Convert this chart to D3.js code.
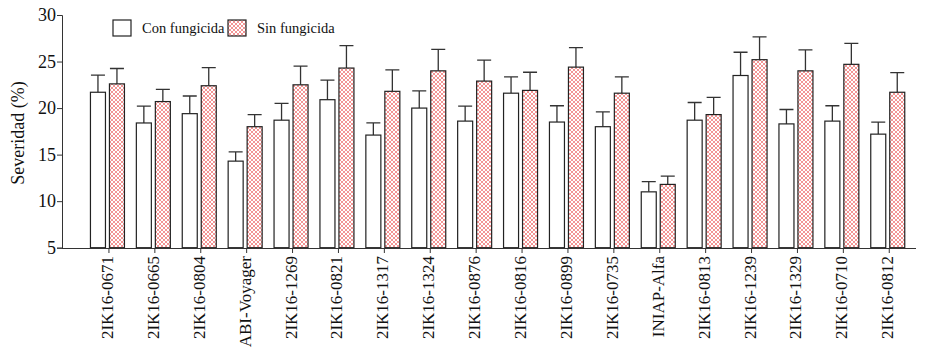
<!DOCTYPE html>
<html>
<head>
<meta charset="utf-8">
<script src="https://cdn.jsdelivr.net/npm/d3@7"></script>
<style>
body { margin: 0; background: #fff; }
</style>
</head>
<body>
<script>
// data
var lines = ["2IK16-0671","2IK16-0665","2IK16-0804","ABI-Voyager","2IK16-1269","2IK16-0821",
  "2IK16-1317","2IK16-1324","2IK16-0876","2IK16-0816","2IK16-0899","2IK16-0735",
  "INIAP-Alfa","2IK16-0813","2IK16-1239","2IK16-1329","2IK16-0710","2IK16-0812"];
var conFung = [21.7,18.4,19.4,14.3,18.7,20.9,17.1,20.0,18.6,21.6,18.5,18.0,11.0,18.7,23.5,18.3,18.6,17.2];
var conErr  = [1.85,1.8,1.9,1.0,1.8,2.1,1.3,1.85,1.6,1.75,1.75,1.6,1.1,1.9,2.5,1.55,1.65,1.3];
var sinFung = [22.6,20.7,22.4,18.0,22.5,24.3,21.8,24.0,22.9,21.9,24.4,21.6,11.8,19.3,25.2,24.0,24.7,21.7];
var sinErr  = [1.65,1.3,1.95,1.3,2.0,2.4,2.3,2.3,2.25,1.95,2.1,1.75,0.9,1.85,2.45,2.25,2.25,2.1];
var series = ["Con fungicida","Sin fungicida"];
var yTicks = [5,10,15,20,25,30];

var FONT = "'Liberation Serif', 'Times New Roman', 'DejaVu Serif', serif";
var W = 925, H = 349;
var svg = d3.select("body").append("svg").attr("width", W).attr("height", H)
  .attr("font-family", FONT);

var defs = svg.append("defs");
var pat = defs.append("pattern").attr("id","hatch").attr("patternUnits","userSpaceOnUse")
  .attr("width",4).attr("height",4);
pat.append("rect").attr("width",4).attr("height",4).attr("fill","#fff");
pat.append("path").attr("d","M0,0L4,4M4,0L0,4").attr("stroke","#f07a7a").attr("stroke-width",0.8);

var y = d3.scaleLinear().domain([5,30]).range([247.7,15]);
var x = d3.scaleBand().domain(lines).range([86,912.2]);
var xs = d3.scaleBand().domain(series).range([-18.5,15.5]).paddingInner(0.21);

// y axis
var yAx = svg.append("g").attr("transform","translate(62,0)")
  .call(d3.axisLeft(y).tickValues(yTicks).tickSize(5).tickPadding(1))
  .attr("font-family", FONT);
yAx.select(".domain").attr("stroke","#333");
yAx.selectAll(".tick line").attr("stroke","#333");
yAx.selectAll("text").style("font-size","18px").style("font-family",FONT).attr("fill","#111");

svg.append("text").attr("transform","translate(24,133) rotate(-90)")
  .attr("text-anchor","middle").style("font-size","18px").style("font-family",FONT)
  .attr("fill","#111").text("Severidad (%)");

// bars
var groups = [
  {name: series[0], vals: conFung, errs: conErr, fill: "#fff"},
  {name: series[1], vals: sinFung, errs: sinErr, fill: "url(#hatch)"}
];
groups.forEach(function(s){
  var g = svg.append("g");
  var items = lines.map(function(l,i){ return {line:l, v:s.vals[i], e:s.errs[i]}; });
  var bx = function(d){ return x(d.line) + x.bandwidth()/2 + xs(s.name); };
  g.selectAll("path.err").data(items).enter().append("path")
    .attr("d", function(d){
      var cx = bx(d) + xs.bandwidth()/2;
      return "M"+cx+","+y(d.v)+"V"+y(d.v+d.e)+"M"+(bx(d)+0.5)+","+y(d.v+d.e)+"H"+(bx(d)+xs.bandwidth()-0.5);
    })
    .attr("stroke","#333").attr("stroke-width",1.3).attr("fill","none");
  g.selectAll("rect").data(items).enter().append("rect")
    .attr("x", bx)
    .attr("y", function(d){ return y(d.v); })
    .attr("width", xs.bandwidth())
    .attr("height", function(d){ return y(5) - y(d.v); })
    .attr("fill", s.fill)
    .attr("stroke","#222").attr("stroke-width",1.2);
});

// x axis
var xAx = svg.append("g").attr("transform","translate(0,248)")
  .call(d3.axisBottom(x).tickSize(5).tickSizeOuter(0))
  .attr("font-family", FONT);
xAx.select(".domain").attr("d","M62,0.5H916").attr("stroke","#333");
xAx.selectAll(".tick line").attr("stroke","#333");
xAx.selectAll("text").style("font-size","17px").style("font-family",FONT).attr("fill","#111")
  .attr("text-anchor","end")
  .attr("transform","rotate(-90)")
  .attr("x",-8).attr("y",-2).attr("dy","0.35em");

// legend
var leg = svg.append("g");
var legX = [113, 228];
series.forEach(function(n,i){
  leg.append("rect").attr("x",legX[i]).attr("y",20).attr("width",18).attr("height",16)
    .attr("fill", groups[i].fill).attr("stroke","#222").attr("stroke-width",1.2);
  leg.append("text").attr("x",legX[i]+29).attr("y",33).style("font-size","14.5px")
    .style("font-family",FONT).attr("fill","#111").text(n);
});
</script>
</body>
</html>
